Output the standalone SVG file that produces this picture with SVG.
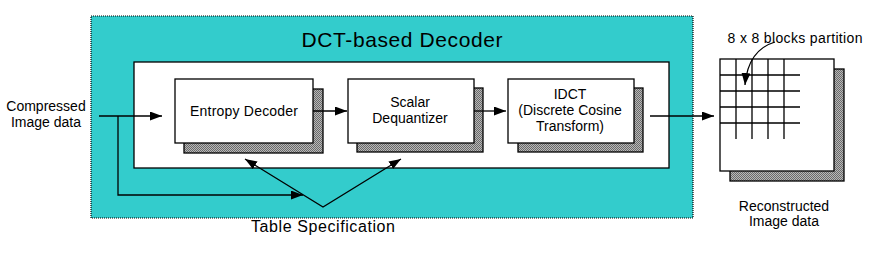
<svg xmlns="http://www.w3.org/2000/svg" width="870" height="253" viewBox="0 0 870 253">
<style>
text{font-family:"Liberation Sans",Arial,sans-serif;fill:#000;}
.box{fill:#fff;stroke:#000;stroke-width:1.3;}
.shadow{fill:url(#dither);stroke:#000;stroke-width:1.3;}
.conn{fill:none;stroke:#000;stroke-width:1.3;}
.grid{stroke:#000;stroke-width:1.3;}
.lbl{font-size:14px;text-anchor:middle;}
</style>
<defs>
<pattern id="dither" width="2" height="2" patternUnits="userSpaceOnUse">
<rect width="2" height="2" fill="#b8b8b8"/>
<rect width="1" height="1" fill="#6a6a6a"/>
<rect x="1" y="1" width="1" height="1" fill="#6a6a6a"/>
</pattern>
<marker id="arr" markerWidth="13" markerHeight="10" refX="12" refY="4.5" orient="auto-start-reverse" markerUnits="userSpaceOnUse">
<path d="M0,0 L12,4.5 L0,9 z" fill="#000"/>
</marker>
</defs>

<g id="decoder">
<rect x="91" y="16" width="602" height="202" fill="#33cccc" stroke="#000" stroke-width="1.2" stroke-dasharray="1,1"/>
<text x="402" y="47" font-size="21" text-anchor="middle" textLength="201">DCT-based Decoder</text>
<rect x="134" y="62" width="535" height="106" class="box"/>
</g>

<g id="entropy-decoder">
<rect x="184" y="89" width="139" height="64" class="shadow"/>
<rect x="175" y="79" width="138" height="64" class="box"/>
<text x="244" y="116" class="lbl" textLength="108">Entropy Decoder</text>
</g>

<g id="scalar-dequantizer">
<rect x="357" y="88" width="126" height="64" class="shadow"/>
<rect x="348" y="79" width="126" height="64" class="box"/>
<text x="410" y="107" class="lbl">Scalar</text>
<text x="410" y="123" class="lbl">Dequantizer</text>
</g>

<g id="idct">
<rect x="518" y="88" width="125" height="64" class="shadow"/>
<rect x="508" y="79" width="126" height="64" class="box"/>
<text x="570" y="99" class="lbl">IDCT</text>
<text x="570" y="115" class="lbl">(Discrete Cosine</text>
<text x="570" y="131" class="lbl">Transform)</text>
</g>

<g id="compressed-input">
<text x="46" y="111" class="lbl">Compressed</text>
<text x="46" y="127" class="lbl">Image data</text>
</g>

<g id="table-spec">
<text x="323" y="232" font-size="16" text-anchor="middle" textLength="144">Table Specification</text>
</g>

<g id="reconstructed-image">
<rect x="730" y="69" width="114" height="112" class="shadow"/>
<rect x="720" y="59" width="114" height="112" class="box"/>
<path class="grid" d="M720,75 H800 M720,91 H800 M720,107 H800 M720,123 H800 M736,59 V139 M752,59 V139 M768,59 V139 M784,59 V139"/>
<text x="795" y="43" class="lbl" textLength="135">8 x 8 blocks partition</text>
<text x="784" y="211" class="lbl">Reconstructed</text>
<text x="784" y="226" class="lbl">Image data</text>
</g>

<g id="connectors">
<path class="conn" d="M99,116 H162" marker-end="url(#arr)"/>
<path class="conn" d="M118,116 V195 H303" marker-end="url(#arr)"/>
<path class="conn" d="M313,111 H347" marker-end="url(#arr)"/>
<path class="conn" d="M474,111 H506" marker-end="url(#arr)"/>
<path class="conn" d="M650,116 H714" marker-end="url(#arr)"/>
<path class="conn" d="M245,159 L323,207 L401,159" marker-start="url(#arr)" marker-end="url(#arr)"/>
<path class="conn" d="M775,42 Q748,50 745,85" marker-end="url(#arr)"/>
</g>
</svg>
